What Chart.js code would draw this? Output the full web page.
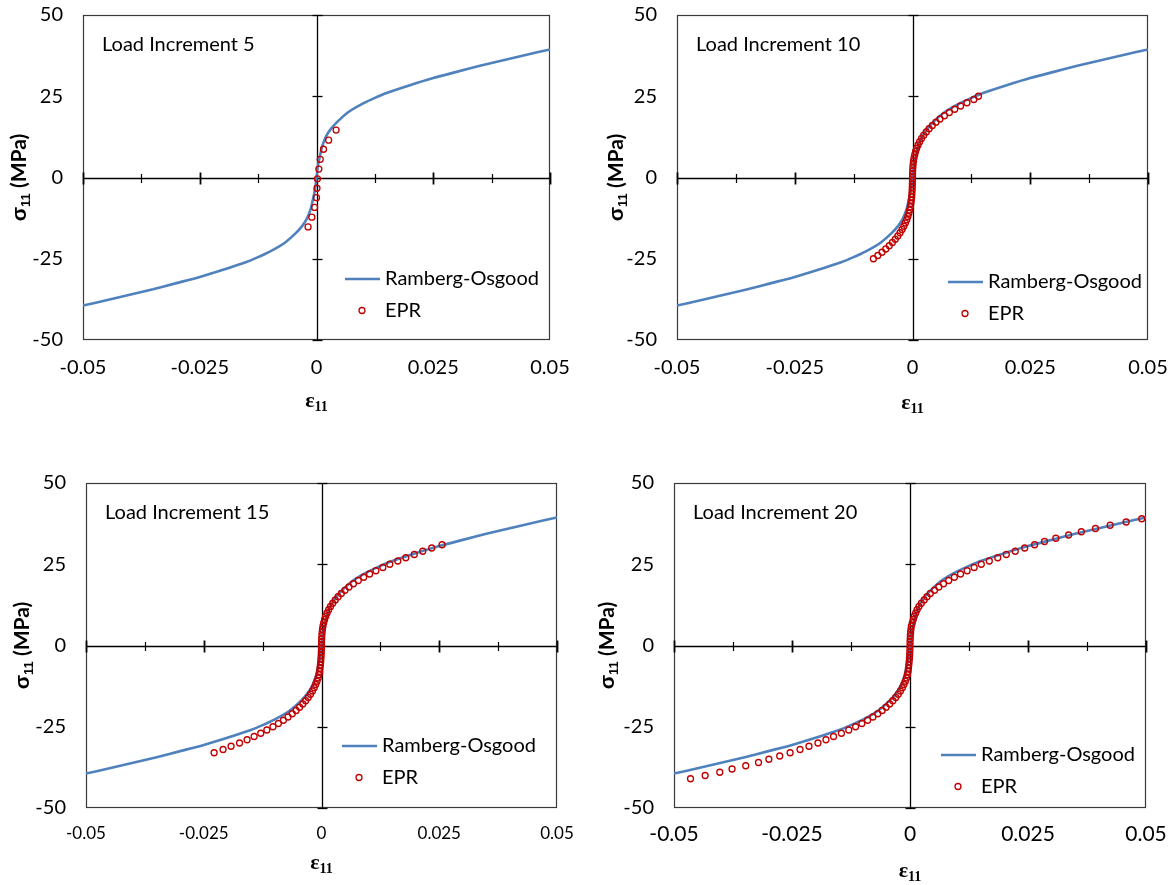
<!DOCTYPE html>
<html>
<head>
<meta charset="utf-8">
<title>Ramberg-Osgood vs EPR</title>
<script src="https://cdn.jsdelivr.net/npm/chart.js@4.4.1/dist/chart.umd.min.js"></script>
<style>
  html, body { margin: 0; padding: 0; background: #fff; }
  #page { position: relative; width: 1175px; height: 885px; overflow: hidden; }
  #page canvas { position: absolute; }
</style>
</head>
<body>
<div id="page">
  <canvas id="chart5" width="590" height="440" style="left:0px;top:0px"></canvas>
  <canvas id="chart10" width="585" height="440" style="left:590px;top:0px"></canvas>
  <canvas id="chart15" width="590" height="445" style="left:0px;top:440px"></canvas>
  <canvas id="chart20" width="585" height="445" style="left:590px;top:440px"></canvas>
</div>
<script>
// Ramberg-Osgood curve (same in every panel)
const roStrain = [-0.05, -0.045, -0.04, -0.035, -0.03, -0.025, -0.02, -0.015, -0.0125, -0.01, -0.007, -0.0045, -0.003, -0.002, -0.0012, -0.0008, -0.0003, 0,
                  0.0003, 0.0008, 0.0012, 0.002, 0.003, 0.0045, 0.007, 0.01, 0.0125, 0.015, 0.02, 0.025, 0.03, 0.035, 0.04, 0.045, 0.05];
const roStress = [-39.4, -37.8, -36.1, -34.4, -32.5, -30.6, -28.4, -26.0, -24.5, -22.8, -20.3, -17.2, -14.8, -12.5, -9.5, -7.0, -3.5, 0,
                  3.5, 7.0, 9.5, 12.5, 14.8, 17.2, 20.3, 22.8, 24.5, 26.0, 28.4, 30.6, 32.5, 34.4, 36.1, 37.8, 39.4];

// EPR predictions, load increment 5
const epr5Strain = [-0.0018, -0.0010, -0.0004, 0.0000, 0.0001, 0.0002, 0.0005, 0.0008, 0.0015, 0.0026, 0.0042];
const epr5Stress = [-15.2, -12.2, -9.2, -6.2, -3.3, -0.4, 2.6, 5.6, 8.7, 11.5, 14.6];

// EPR predictions, load increment 10
const epr10Strain = [-0.0083, -0.00736, -0.00648, -0.00567, -0.00493, -0.00427, -0.00366, -0.00312, -0.00264, -0.00221,
                     -0.00184, -0.00151, -0.00122, -0.00098, -0.00077, -0.0006, -0.00045, -0.00034, -0.00025, -0.00017,
                     -0.00012, -0.00008, -0.00005, -0.00003, -0.00001, 0,
                     0.00001, 0.00004, 0.00007, 0.00013, 0.00021, 0.00032, 0.00047, 0.00066, 0.00089, 0.00118,
                     0.00152, 0.00192, 0.00238, 0.00292, 0.00352, 0.00421, 0.00498, 0.00583, 0.00678, 0.00782,
                     0.00896, 0.01021, 0.01156, 0.01303, 0.0140];
const epr10Stress = [-25, -24, -23, -22, -21, -20, -19, -18, -17, -16, -15, -14, -13, -12, -11, -10, -9, -8, -7, -6,
                     -5, -4, -3, -2, -1, 0, 1, 2, 3, 4, 5, 6, 7, 8, 9, 10, 11, 12, 13, 14, 15, 16, 17, 18, 19, 20,
                     21, 22, 23, 24, 25];

// EPR predictions, load increment 15
const epr15Strain = [-0.0228, -0.0209, -0.0192, -0.0174, -0.0158, -0.0143, -0.0129, -0.0116, -0.0103, -0.00915,
                     -0.00809, -0.00711, -0.00621, -0.00539, -0.00465, -0.00397, -0.00337, -0.00282, -0.00234, -0.00192,
                     -0.00155, -0.00123, -0.00095, -0.00072, -0.00053, -0.00038, -0.00032, -0.00024, -0.00017, -0.00012,
                     -0.00007, -0.00004, -0.00001, 0,
                     0.00001, 0.00004, 0.00007, 0.00013, 0.00021, 0.00032, 0.00047, 0.00066, 0.00089, 0.00118,
                     0.00152, 0.00192, 0.00238, 0.00292, 0.00352, 0.00421, 0.00498, 0.00583, 0.00678, 0.00782,
                     0.00896, 0.01021, 0.01156, 0.01303, 0.0145, 0.0162, 0.0179, 0.0197, 0.0215, 0.0234, 0.0256];
const epr15Stress = [-33, -32, -31, -30, -29, -28, -27, -26, -25, -24, -23, -22, -21, -20, -19, -18, -17, -16, -15, -14,
                     -13, -12, -11, -10, -9, -8, -7, -6, -5, -4, -3, -2, -1, 0, 1, 2, 3, 4, 5, 6, 7, 8, 9, 10,
                     11, 12, 13, 14, 15, 16, 17, 18, 19, 20, 21, 22, 23, 24, 25, 26, 27, 28, 29, 30, 31];

// EPR predictions, load increment 20
const epr20Strain = [-0.0465, -0.0434, -0.0403, -0.0377, -0.0348, -0.0321, -0.0299, -0.0276, -0.0254, -0.0233,
                     -0.0214, -0.0195, -0.0178, -0.0162, -0.01453, -0.01297, -0.01153, -0.0102, -0.00898, -0.00786,
                     -0.00683, -0.0059, -0.00506, -0.0043, -0.00363, -0.00302, -0.00249, -0.00203, -0.00162, -0.00128,
                     -0.00098, -0.00074, -0.00054, -0.0004, -0.00033, -0.00025, -0.00018, -0.00012, -0.00007, -0.00004,
                     -0.00001, 0,
                     0.00001, 0.00004, 0.00007, 0.00013, 0.0002, 0.0003, 0.0005, 0.0007, 0.0009, 0.0012,
                     0.0015, 0.0019, 0.0024, 0.0030, 0.0036, 0.0043, 0.0052, 0.0061, 0.0071, 0.0082,
                     0.0094, 0.0107, 0.0121, 0.0136, 0.0151, 0.0168, 0.0186, 0.0204, 0.0223, 0.0243,
                     0.0264, 0.0285, 0.0309, 0.0336, 0.0363, 0.0393, 0.0424, 0.0458, 0.0491];
const epr20Stress = [-41, -40, -39, -38, -37, -36, -35, -34, -33, -32, -31, -30, -29, -28, -27, -26, -25, -24, -23, -22,
                     -21, -20, -19, -18, -17, -16, -15, -14, -13, -12, -11, -10, -9, -8, -7, -6, -5, -4, -3, -2,
                     -1, 0, 1, 2, 3, 4, 5, 6, 7, 8, 9, 10, 11, 12, 13, 14, 15, 16, 17, 18, 19, 20,
                     21, 22, 23, 24, 25, 26, 27, 28, 29, 30, 31, 32, 33, 34, 35, 36, 37, 38, 39];

// Axis ranges and tick marks
const strainRange = [-0.05, 0.05];
const stressRange = [-50, 50];
const strainLabelStep = 0.025;
const stressLabelStep = 25;
const strainCrossTicks = [-0.05, -0.0375, -0.025, -0.0125, 0.0125, 0.025, 0.0375, 0.05];
const stressCrossTicks = [-50, -25, 25, 50];

const seriesNames = ['Ramberg-Osgood', 'EPR'];
const roColor = '#4F81BD';
const eprColor = '#C00000';

// Panel layout
const panels = [
    { id: 'chart5', label: 'Load Increment 5', strain: epr5Strain, stress: epr5Stress,
      yW: 83, xH: 100, padTop: 15, padRight: 40, xTickFont: 20, xTickPad: 16, titleOff: 61, yTitleX: 19, legendX: 345, legendY: 279 },
    { id: 'chart10', label: 'Load Increment 10', strain: epr10Strain, stress: epr10Stress,
      yW: 87, xH: 100, padTop: 15, padRight: 27, xTickFont: 20, xTickPad: 16, titleOff: 63, yTitleX: 26, legendX: 358, legendY: 282 },
    { id: 'chart15', label: 'Load Increment 15', strain: epr15Strain, stress: epr15Stress,
      yW: 86, xH: 77, padTop: 43, padRight: 33, xTickFont: 17, xTickPad: 15, titleOff: 55, yTitleX: 22, legendX: 342, legendY: 306 },
    { id: 'chart20', label: 'Load Increment 20', strain: epr20Strain, stress: epr20Stress,
      yW: 84, xH: 77, padTop: 43, padRight: 29, xTickFont: 21, xTickPad: 14, titleOff: 63, yTitleX: 17, legendX: 351, legendY: 315 }
];

const textFont = 'Lato';

function toPoints(xs, ys) {
    return xs.map((v, i) => ({ x: v, y: ys[i] }));
}

function line(ctx, x1, y1, x2, y2) {
    ctx.beginPath();
    ctx.moveTo(x1, y1);
    ctx.lineTo(x2, y2);
    ctx.stroke();
}

// Excel style frame: box, axes crossing at zero, cross tick marks
const excelFrame = {
    id: 'excelFrame',
    beforeDatasetsDraw(chart) {
        const { ctx, chartArea: a, scales: { x, y } } = chart;
        ctx.save();
        ctx.strokeStyle = '#3a3a3a';
        ctx.lineWidth = 1.2;
        ctx.strokeRect(Math.round(a.left) + 0.5, Math.round(a.top) + 0.5,
            Math.round(a.width) - 1, Math.round(a.height) - 1);

        const x0 = Math.round(x.getPixelForValue(0)) + 0.5;
        const y0 = Math.round(y.getPixelForValue(0)) + 0.5;
        ctx.strokeStyle = '#000';
        ctx.lineWidth = 1.3;
        line(ctx, x0, a.top, x0, a.bottom);
        line(ctx, a.left, y0, a.right, y0);

        strainCrossTicks.forEach(v => {
            const px = Math.round(x.getPixelForValue(v)) + 0.5;
            const major = Math.abs(Math.round(v / strainLabelStep) * strainLabelStep - v) < 1e-9;
            ctx.lineWidth = major ? 1.8 : 1.2;
            const len = major ? 6 : 4.5;
            line(ctx, px, y0 - len, px, y0 + len);
        });
        ctx.lineWidth = 1.3;
        stressCrossTicks.forEach(v => {
            const py = Math.round(y.getPixelForValue(v)) + 0.5;
            line(ctx, x0 - 5, py, x0 + 5, py);
        });
        ctx.restore();
    },
    afterDraw(chart, args, opts) {
        const { ctx, chartArea: a, scales: { x, y } } = chart;
        ctx.save();
        ctx.fillStyle = '#000';

        // Panel label
        ctx.font = '20px ' + textFont;
        ctx.textBaseline = 'middle';
        ctx.textAlign = 'left';
        ctx.fillText(opts.label, a.left + 19, a.top + 30);

        // Legend
        const lx = opts.legendX, ly = opts.legendY, gap = 31.5;
        ctx.strokeStyle = roColor;
        ctx.lineWidth = 2.6;
        line(ctx, lx, ly, lx + 35, ly);
        ctx.strokeStyle = eprColor;
        ctx.lineWidth = 1.3;
        ctx.beginPath();
        ctx.arc(lx + 17, ly + gap, 3, 0, Math.PI * 2);
        ctx.stroke();
        ctx.fillText(seriesNames[0], lx + 40, ly);
        ctx.fillText(seriesNames[1], lx + 40, ly + gap);

        // x axis title: epsilon 11
        const tx = x.getPixelForValue(0);
        const ty = a.bottom + opts.titleOff;
        ctx.font = 'bold 22px "Liberation Serif"';
        const wE = ctx.measureText('ε').width;
        ctx.font = 'bold 14px "Liberation Serif"';
        const wS = ctx.measureText('11').width;
        let sx = tx - (wE + wS) / 2;
        ctx.textAlign = 'left';
        ctx.textBaseline = 'alphabetic';
        ctx.font = 'bold 22px "Liberation Serif"';
        ctx.fillText('ε', sx, ty + 6);
        ctx.font = 'bold 14px "Liberation Serif"';
        ctx.fillText('11', sx + wE, ty + 10);

        // y axis title: sigma 11 (MPa)
        const cy = y.getPixelForValue(0);
        ctx.translate(opts.yTitleX, cy);
        ctx.rotate(-Math.PI / 2);
        ctx.font = 'bold 21px "Liberation Sans"';
        const wG = ctx.measureText('σ').width;
        ctx.font = 'bold 13px "Liberation Sans"';
        const w11 = ctx.measureText('11').width;
        ctx.font = 'bold 21px ' + textFont;
        const wU = ctx.measureText(' (MPa)').width;
        let px = -(wG + w11 + wU) / 2;
        ctx.font = 'bold 21px "Liberation Sans"';
        ctx.fillText('σ', px, 7);
        ctx.font = 'bold 13px "Liberation Sans"';
        ctx.fillText('11', px + wG, 11);
        ctx.font = 'bold 21px ' + textFont;
        ctx.fillText(' (MPa)', px + wG + w11, 7);
        ctx.restore();
    }
};

function formatStrain(v) {
    const r = Math.round(v * 10000) / 10000;
    return r === 0 ? '0' : String(r);
}

// Create one panel
function createPanel(p) {
    const ctx = document.getElementById(p.id).getContext('2d');
    return new Chart(ctx, {
        type: 'scatter',
        data: {
            datasets: [
                {
                    label: seriesNames[1],
                    data: toPoints(p.strain, p.stress),
                    showLine: false,
                    pointStyle: 'circle',
                    pointRadius: 3,
                    pointBorderWidth: 1.3,
                    pointBorderColor: eprColor,
                    pointBackgroundColor: 'rgba(0,0,0,0)',
                    order: 0
                },
                {
                    label: seriesNames[0],
                    data: toPoints(roStrain, roStress),
                    showLine: true,
                    borderColor: roColor,
                    borderWidth: 2.6,
                    pointRadius: 0,
                    tension: 0.2,
                    order: 1
                }
            ]
        },
        options: {
            responsive: false,
            animation: false,
            events: [],
            devicePixelRatio: 1,
            layout: {
                autoPadding: false,
                padding: { top: p.padTop, right: p.padRight, left: 0, bottom: 0 }
            },
            plugins: {
                legend: { display: false },
                tooltip: { enabled: false },
                excelFrame: p
            },
            scales: {
                x: {
                    type: 'linear',
                    min: strainRange[0],
                    max: strainRange[1],
                    grid: { display: false, drawTicks: false },
                    border: { display: false },
                    ticks: {
                        stepSize: strainLabelStep,
                        padding: p.xTickPad,
                        maxRotation: 0,
                        autoSkip: false,
                        color: '#000',
                        font: { family: textFont, size: p.xTickFont },
                        callback: v => formatStrain(v)
                    },
                    afterFit(s) {
                        s.height = p.xH;
                        s.paddingLeft = 0;
                        s.paddingRight = 0;
                    }
                },
                y: {
                    type: 'linear',
                    min: stressRange[0],
                    max: stressRange[1],
                    grid: { display: false, drawTicks: false },
                    border: { display: false },
                    ticks: {
                        stepSize: stressLabelStep,
                        padding: 20,
                        color: '#000',
                        font: { family: textFont, size: 20 }
                    },
                    afterFit(s) {
                        s.width = p.yW;
                        s.paddingTop = 0;
                        s.paddingBottom = 0;
                    }
                }
            }
        },
        plugins: [excelFrame]
    });
}

function buildAll() {
    panels.forEach(createPanel);
}

Promise.all([
    document.fonts.load('20px Lato'),
    document.fonts.load('bold 20px Lato'),
    document.fonts.load('bold 20px "Liberation Serif"'),
    document.fonts.load('bold 20px "Liberation Sans"')
]).then(buildAll, buildAll);
</script>
</body>
</html>
